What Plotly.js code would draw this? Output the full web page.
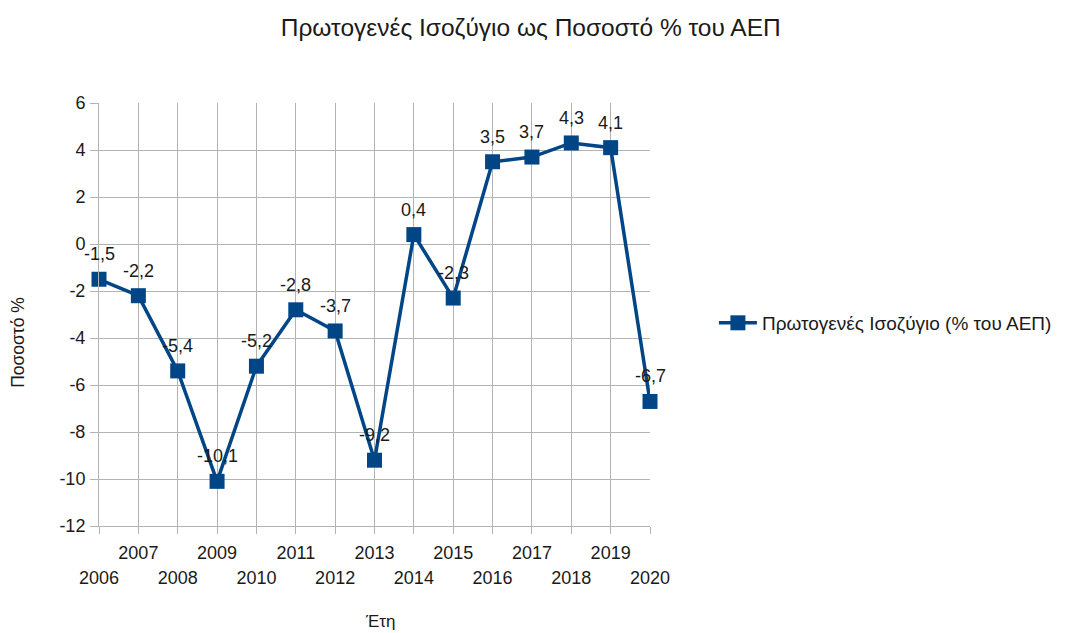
<!DOCTYPE html>
<html>
<head>
<meta charset="utf-8">
<script src="https://cdn.plot.ly/plotly-3.0.1.min.js"></script>
<style>html,body{margin:0;padding:0;background:#fff;}#chart{width:1070px;height:633px;}</style>
</head>
<body>
<div id="chart"></div>
<script>
const years = [2006,2007,2008,2009,2010,2011,2012,2013,2014,2015,2016,2017,2018,2019,2020];
const balance = [-1.5,-2.2,-5.4,-10.1,-5.2,-2.8,-3.7,-9.2,0.4,-2.3,3.5,3.7,4.3,4.1,-6.7];
const seriesName = 'Πρωτογενές Ισοζύγιο (% του ΑΕΠ)';
const chartTitle = 'Πρωτογενές Ισοζύγιο ως Ποσοστό % του ΑΕΠ';
const xTitle = 'Έτη';
const yTitle = 'Ποσοστό %';
const yTicks = [-12,-10,-8,-6,-4,-2,0,2,4,6];

const evenYears = years.filter(y => y % 2 === 0);
const oddYears = years.filter(y => y % 2 === 1);
const font = 'Liberation Sans, Arial, sans-serif';
const txt = '#1a1a1a';
const color = '#004586';

const trace = {
  x: years, y: balance, type: 'scatter', mode: 'lines+markers',
  name: seriesName,
  line: {color: color, width: 3.5},
  marker: {symbol: 'square', size: 15, color: color},
  cliponaxis: false
};
const dummy = {x: [years[0]], y: [null], xaxis: 'x2', showlegend: false, hoverinfo: 'skip', type: 'scatter'};

const labelAnns = years.map((yr, i) => ({
  x: yr, y: balance[i], xref: 'x', yref: 'y',
  text: balance[i].toFixed(1).replace('.', ','),
  showarrow: false, yshift: 25,
  font: {family: font, size: 18, color: txt}
}));

const layout = {
  width: 1070, height: 633,
  margin: {l: 99, r: 420, t: 103, b: 107, autoexpand: false},
  paper_bgcolor: '#fff', plot_bgcolor: '#fff',
  font: {family: font, color: txt},
  title: {text: chartTitle, font: {family: font, size: 24.5, color: txt}, x: 0.496, xanchor: 'center', y: 0.957, yanchor: 'middle'},
  xaxis: {
    range: [years[0], years[years.length-1]],
    tickvals: years,
    ticktext: years.map(y => y % 2 === 0 ? String(y) : ''),
    ticks: 'outside', ticklen: 7, tickcolor: '#b3b3b3', tickwidth: 1,
    showgrid: true, gridcolor: '#b3b3b3', gridwidth: 1,
    showline: true, linecolor: '#b3b3b3', linewidth: 1,
    zeroline: false,
    tickfont: {family: font, size: 18, color: txt},
    ticklabelstandoff: 28
  },
  xaxis2: {
    overlaying: 'x', anchor: 'y', side: 'bottom',
    range: [years[0], years[years.length-1]],
    tickvals: oddYears, ticktext: oddYears.map(String),
    ticks: '', showgrid: false, showline: false, zeroline: false,
    tickfont: {family: font, size: 18, color: txt},
    ticklabelstandoff: 14
  },
  yaxis: {
    range: [-12, 6], tickvals: yTicks, ticktext: yTicks.map(String),
    ticks: 'outside', ticklen: 8, tickcolor: '#b3b3b3',
    showgrid: true, gridcolor: '#b3b3b3', gridwidth: 1,
    showline: true, linecolor: '#b3b3b3', zeroline: false,
    tickfont: {family: font, size: 18, color: txt},
    ticklabelstandoff: 1
  },
  showlegend: true,
  legend: {x: 1.116, xanchor: 'left', y: 0.48, yanchor: 'middle', itemwidth: 38, font: {family: font, size: 19, color: txt}, bgcolor: 'rgba(0,0,0,0)'},
  annotations: labelAnns.concat([
    {text: yTitle, xref: 'paper', yref: 'paper', x: -0.147, y: 0.433, xanchor: 'center', yanchor: 'middle', textangle: -90, showarrow: false, font: {family: font, size: 17.5, color: txt}},
    {text: xTitle, xref: 'paper', yref: 'paper', x: 0.51, y: -0.225, xanchor: 'center', yanchor: 'middle', showarrow: false, font: {family: font, size: 17, color: txt}}
  ])
};
Plotly.newPlot('chart', [trace, dummy], layout, {displayModeBar: false, staticPlot: true});
</script>
</body>
</html>
